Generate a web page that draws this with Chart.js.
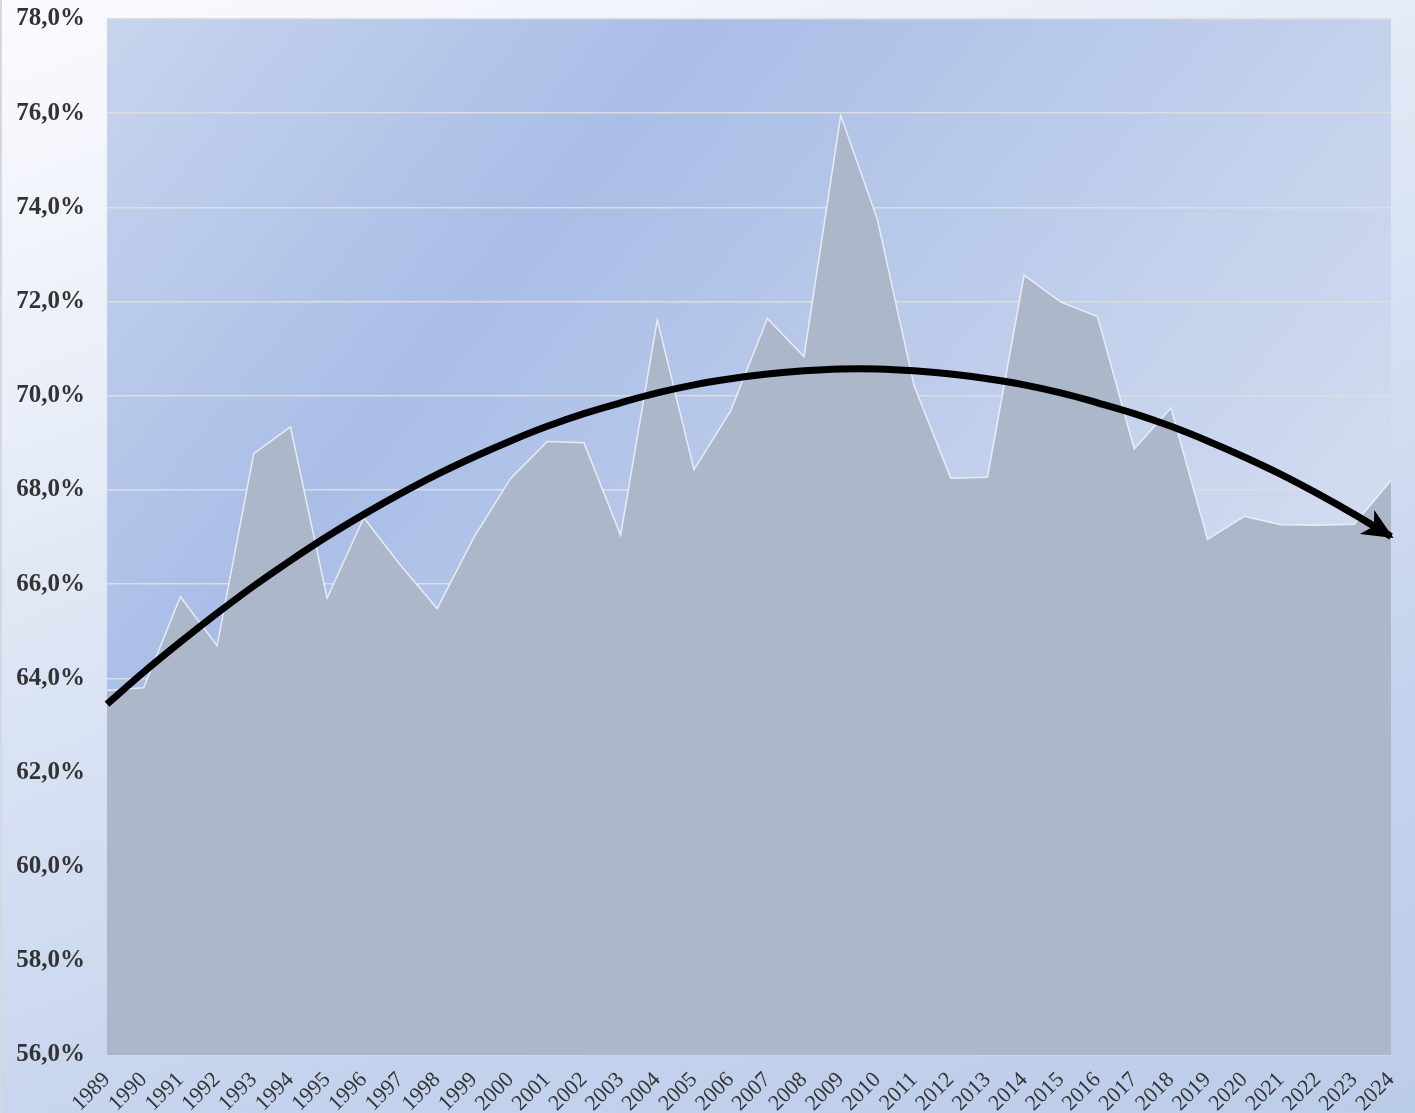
<!DOCTYPE html>
<html>
<head>
<meta charset="utf-8">
<script src="https://cdn.jsdelivr.net/npm/chart.js@4/dist/chart.umd.min.js"></script>
<style>
  html, body { margin: 0; padding: 0; }
  body { width: 1415px; height: 1113px; overflow: hidden;
    background: linear-gradient(160deg, #fafbfe 0%, #e6ecf7 30%, #c3d2ed 75%, #bccde9 100%); }
  #wrap { position: relative; width: 1413px; height: 1113px; border-left: 2px solid #d4d8e0; }
</style>
</head>
<body>
<div id="wrap"><canvas id="chart"></canvas></div>
<script>
'use strict';

// years on the x axis
var years = [ '1989', '1990', '1991', '1992', '1993', '1994', '1995', '1996', '1997', '1998',
    '1999', '2000', '2001', '2002', '2003', '2004', '2005', '2006', '2007', '2008',
    '2009', '2010', '2011', '2012', '2013', '2014', '2015', '2016', '2017', '2018',
    '2019', '2020', '2021', '2022', '2023', '2024' ];

// share in %
var share = [ 63.74, 63.80, 65.73, 64.69, 68.77, 69.34, 65.70, 67.41, 66.40, 65.48,
    66.99, 68.24, 69.03, 69.00, 67.04, 71.61, 68.43, 69.68, 71.64, 70.83,
    75.95, 73.74, 70.21, 68.25, 68.27, 72.56, 71.99, 71.68, 68.87, 69.74,
    66.95, 67.44, 67.26, 67.25, 67.27, 68.20 ];

// black trend curve
var trend = [ 63.45, 64.13, 64.77, 65.38, 65.96, 66.50, 67.01, 67.48, 67.92, 68.33,
    68.70, 69.04, 69.35, 69.62, 69.85, 70.06, 70.23, 70.36, 70.46, 70.53,
    70.57, 70.57, 70.53, 70.46, 70.36, 70.23, 70.06, 69.85, 69.62, 69.35,
    69.04, 68.70, 68.33, 67.92, 67.48, 67.01 ];

var yMin = 56;
var yMax = 78;
var yStep = 2;

var serif = '"Times New Roman", "Liberation Serif", Tinos, serif';

// plot area gradient
var plotBackground = {
    id: 'plotBackground',
    beforeDraw: function(chart) {
        var a = chart.chartArea;
        var ctx = chart.ctx;
        var g = ctx.createLinearGradient(a.left, a.top, a.right, a.bottom);
        g.addColorStop(0, '#c7d4ed');
        g.addColorStop(0.28, '#a9bde6');
        g.addColorStop(0.6, '#c3d1ec');
        g.addColorStop(1, '#e2e8f5');
        ctx.save();
        ctx.fillStyle = g;
        ctx.fillRect(a.left, a.top, a.right - a.left, a.bottom - a.top);
        ctx.restore();
    }
};

// arrow head at the end of the trend curve
var trendArrow = {
    id: 'trendArrow',
    afterDatasetsDraw: function(chart) {
        var pts = chart.getDatasetMeta(1).data;
        var p1 = pts[pts.length - 1];
        var p0 = pts[pts.length - 2];
        var ang = Math.atan2(p1.y - p0.y, p1.x - p0.x);
        var ctx = chart.ctx;
        ctx.save();
        ctx.translate(p1.x, p1.y);
        ctx.rotate(ang);
        ctx.fillStyle = '#000';
        ctx.beginPath();
        ctx.moveTo(3, 0);
        ctx.lineTo(-28, -14);
        ctx.lineTo(-20, 0);
        ctx.lineTo(-28, 14);
        ctx.closePath();
        ctx.fill();
        ctx.restore();
    }
};

var ctx = document.getElementById('chart').getContext('2d');

new Chart(ctx, {
    type: 'line',
    data: {
        labels: years,
        datasets: [
            {
                data: share,
                fill: 'start',
                backgroundColor: '#acb7c9',
                borderColor: 'rgba(240,244,252,0.85)',
                borderWidth: 1.5,
                pointRadius: 0,
                tension: 0,
                order: 2
            },
            {
                data: trend,
                fill: false,
                borderColor: '#000',
                borderWidth: 7,
                pointRadius: 0,
                tension: 0.4,
                borderCapStyle: 'butt',
                order: 1
            }
        ]
    },
    options: {
        responsive: true,
        maintainAspectRatio: false,
        animation: false,
        layout: { padding: { top: 19, right: 24, left: 0, bottom: 0 } },
        plugins: {
            legend: { display: false },
            tooltip: { enabled: false }
        },
        scales: {
            x: {
                offset: false,
                grid: { display: false, drawTicks: false },
                border: { display: false },
                ticks: {
                    autoSkip: false,
                    minRotation: 45,
                    maxRotation: 45,
                    padding: 12,
                    color: '#333',
                    font: { family: serif, size: 22 }
                },
                afterFit: function(axis) {
                    axis.height = 58;
                    axis.paddingLeft = 0;
                    axis.paddingRight = 0;
                }
            },
            y: {
                min: yMin,
                max: yMax,
                grid: { color: '#dcdde0', lineWidth: 1.5, drawTicks: false },
                border: { display: false },
                ticks: {
                    stepSize: yStep,
                    padding: 22,
                    color: '#333',
                    font: { family: serif, size: 25, weight: 'bold' },
                    callback: function(v) { return v.toFixed(1).replace('.', ',') + '%'; }
                },
                afterFit: function(axis) {
                    axis.width = 105;
                    axis.paddingTop = 0;
                    axis.paddingBottom = 0;
                }
            }
        }
    },
    plugins: [plotBackground, trendArrow]
});
</script>
</body>
</html>
